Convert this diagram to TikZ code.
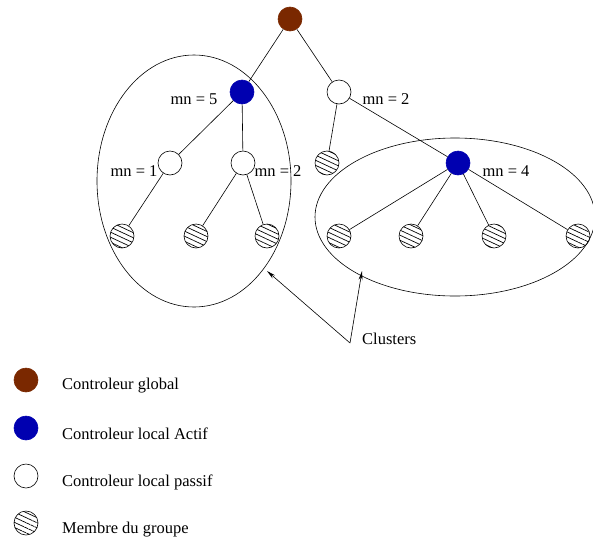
\documentclass[tikz,border=0pt]{standalone}
\usepackage{fontspec}
\setmainfont{Liberation Serif}
\usetikzlibrary{arrows.meta,patterns.meta}
\definecolor{brownctl}{RGB}{122,40,0}
\definecolor{bluectl}{RGB}{0,0,176}
\begin{document}
\begin{tikzpicture}[x=1pt,y=-1pt, >={Stealth[length=9pt,width=4pt]},
      font=\fontsize{16.5}{19}\selectfont,
      ctl/.style={circle,draw=black,line width=0.6pt,inner sep=0,minimum size=24pt},
      global/.style={ctl,draw=brownctl,fill=brownctl},
      actif/.style={ctl,draw=bluectl,fill=bluectl},
      passif/.style={ctl,fill=white},
      membre/.style={ctl,pattern={Lines[angle=-25,distance=4.6pt,line width=0.7pt]}},
      edge/.style={line width=0.6pt},
      lbl/.style={inner sep=0} ]
      \useasboundingbox (0,0) rectangle (593,541);

      % clusters
      \draw[edge] (194,181) ellipse [x radius=97, y radius=126];
      \draw[edge] (455,217) ellipse [x radius=140, y radius=79];

      % nodes
      \node[global] (g) at (290,19) {};
      \node[actif] (a5) at (242,92) {};
      \node[passif] (p2) at (339,92) {};
      \node[passif] (p1) at (170,163) {};
      \node[passif] (p2b) at (243,163) {};
      \node[membre] (m0) at (327,163) {};
      \node[actif] (a4) at (458,163) {};
      \node[membre] (m1) at (122,236) {};
      \node[membre] (m2) at (196,236) {};
      \node[membre] (m3) at (267,236) {};
      \node[membre] (m4) at (339,236) {};
      \node[membre] (m5) at (411,236) {};
      \node[membre] (m6) at (494,236) {};
      \node[membre] (m7) at (578,236) {};

      % links
      \draw[edge] (g) -- (a5);
      \draw[edge] (g) -- (p2);
      \draw[edge] (a5) -- (p1);
      \draw[edge] (a5) -- (p2b);
      \draw[edge] (p1) -- (m1);
      \draw[edge] (p2b) -- (m2);
      \draw[edge] (p2b) -- (m3);
      \draw[edge] (p2) -- (m0);
      \draw[edge] (p2) -- (a4);
      \foreach \m in {m4,m5,m6,m7}
        \draw[edge] (a4) -- (\m);

      % labels
      \node[lbl] (l5) at (194,99) {mn = 5};
      \node[lbl] (l2) at (386,99) {mn = 2};
      \node[lbl] (l1) at (134,171) {mn = 1};
      \node[lbl] (l2b) at (278,171) {mn = 2};
      \node[lbl] (l4) at (506,171) {mn = 4};

      % clusters pointer
      \node[lbl,anchor=west] (cl) at (362,339) {Clusters};
      \coordinate (c0) at (350,343);
      \coordinate (t1) at (267,271);
      \coordinate (t2) at (362,271);
      \draw[edge,->] (c0) -- (t1);
      \draw[edge,->] (c0) -- (t2);

      % legend
      \node[global] (k1) at (26,380) {};
      \node[actif] (k2) at (26,428) {};
      \node[passif] (k3) at (26,476) {};
      \node[membre] (k4) at (26,523) {};
      \node[lbl,anchor=west] at (62,386) {Controleur global};
      \node[lbl,anchor=west] at (62,434) {Controleur local Actif};
      \node[lbl,anchor=west] at (62,482) {Controleur local passif};
      \node[lbl,anchor=west] at (62,530) {Membre du groupe};
    \end{tikzpicture}
\end{document}
